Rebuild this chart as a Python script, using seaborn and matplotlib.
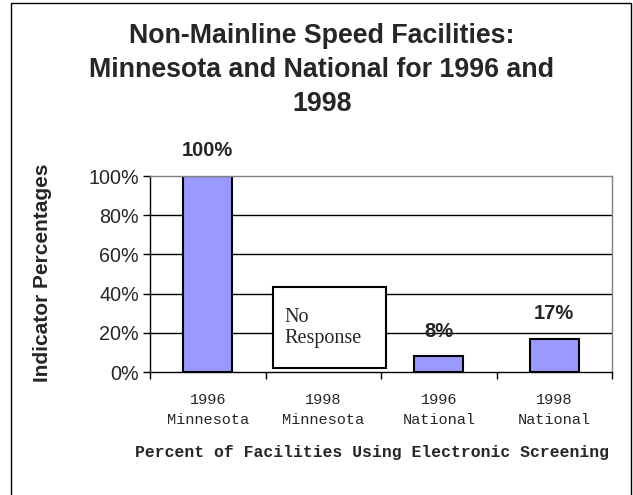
import numpy as np
import pandas as pd
import seaborn as sns
import matplotlib.pyplot as plt
from matplotlib.patches import Rectangle

years = ['1996', '1998', '1996', '1998']
regions = ['Minnesota', 'Minnesota', 'National', 'National']
percent_electronic = [100, np.nan, 8, 17]   # 1998 Minnesota: no response
value_labels = ['100%', '', '8%', '17%']

categories = [f'{y}\n{r}' for y, r in zip(years, regions)]
df = pd.DataFrame({'category': categories, 'percent': percent_electronic})

sns.set_style('white')
plt.rcParams['font.family'] = ['Liberation Sans', 'DejaVu Sans']

fig = plt.figure(figsize=(6.33, 4.95), dpi=100)
ax = fig.add_axes([150 / 633, 1 - 372 / 495, 462 / 633, 196 / 495])

sns.barplot(data=df, x='category', y='percent', order=categories, color='#9999ff',
            saturation=1, width=0.42, edgecolor='black', linewidth=1.5, ax=ax)

ax.set_ylim(0, 100)
ax.set_xlim(-0.5, len(categories) - 0.5)
ax.set_yticks(range(0, 101, 20))
ax.set_yticklabels([f'{t}%' for t in range(0, 101, 20)], fontsize=14.2)
for t in range(20, 100, 20):
    ax.axhline(t, color='black', lw=1, zorder=0)

ax.set_xticks(range(len(categories)))
ax.set_xticklabels(categories, family='Liberation Mono', fontsize=11, linespacing=1.6)
ax.set_xticks(np.arange(-0.5, len(categories), 1), minor=True)
ax.tick_params(axis='x', which='major', length=0, pad=15)
ax.tick_params(axis='x', which='minor', length=5, width=1, color='black', direction='out', bottom=True)
ax.tick_params(axis='y', length=5, width=1, color='black', direction='out', left=True, pad=3)

for side in ['left', 'bottom']:
    ax.spines[side].set_color('black')
    ax.spines[side].set_linewidth(1)
for side in ['top', 'right']:
    ax.spines[side].set_color('#808080')
    ax.spines[side].set_linewidth(1)

for i, (v, lab) in enumerate(zip(percent_electronic, value_labels)):
    if np.isnan(v):
        continue
    ax.annotate(lab, (i, v), xytext=(0, 18), textcoords='offset points',
                ha='center', va='center', fontsize=14.5, fontweight='bold')

# "No Response" note over the missing 1998 Minnesota bar
ax.add_patch(Rectangle((0.565, 2), 0.978, 41.4, facecolor='white', edgecolor='black',
                       lw=1.5, zorder=5))
ax.text(0.66, 22.5, 'No\nResponse', family='Liberation Serif', fontsize=14.5,
        ha='left', va='center', linespacing=1.2, zorder=6)

ax.set_ylabel('Indicator Percentages', fontsize=15, fontweight='bold')
ax.yaxis.set_label_coords(-0.212, 0.505)
ax.set_xlabel('Percent of Facilities Using Electronic Screening', family='Liberation Mono',
              fontsize=11.8, fontweight='bold', va='center')
ax.xaxis.set_label_coords(0.48, -0.413)

fig.text(322 / 633, 1 - 70 / 495,
         'Non-Mainline Speed Facilities:\nMinnesota and National for 1996 and\n1998',
         ha='center', va='center', fontsize=19.3, fontweight='bold', linespacing=1.38)

fig.add_artist(Rectangle((11 / 633, -0.01), 620 / 633, 1 - 3 / 495 + 0.01,
                         transform=fig.transFigure, fill=False, edgecolor='black', lw=1))

fig.savefig('out.png', dpi=100)
plt.close(fig)
